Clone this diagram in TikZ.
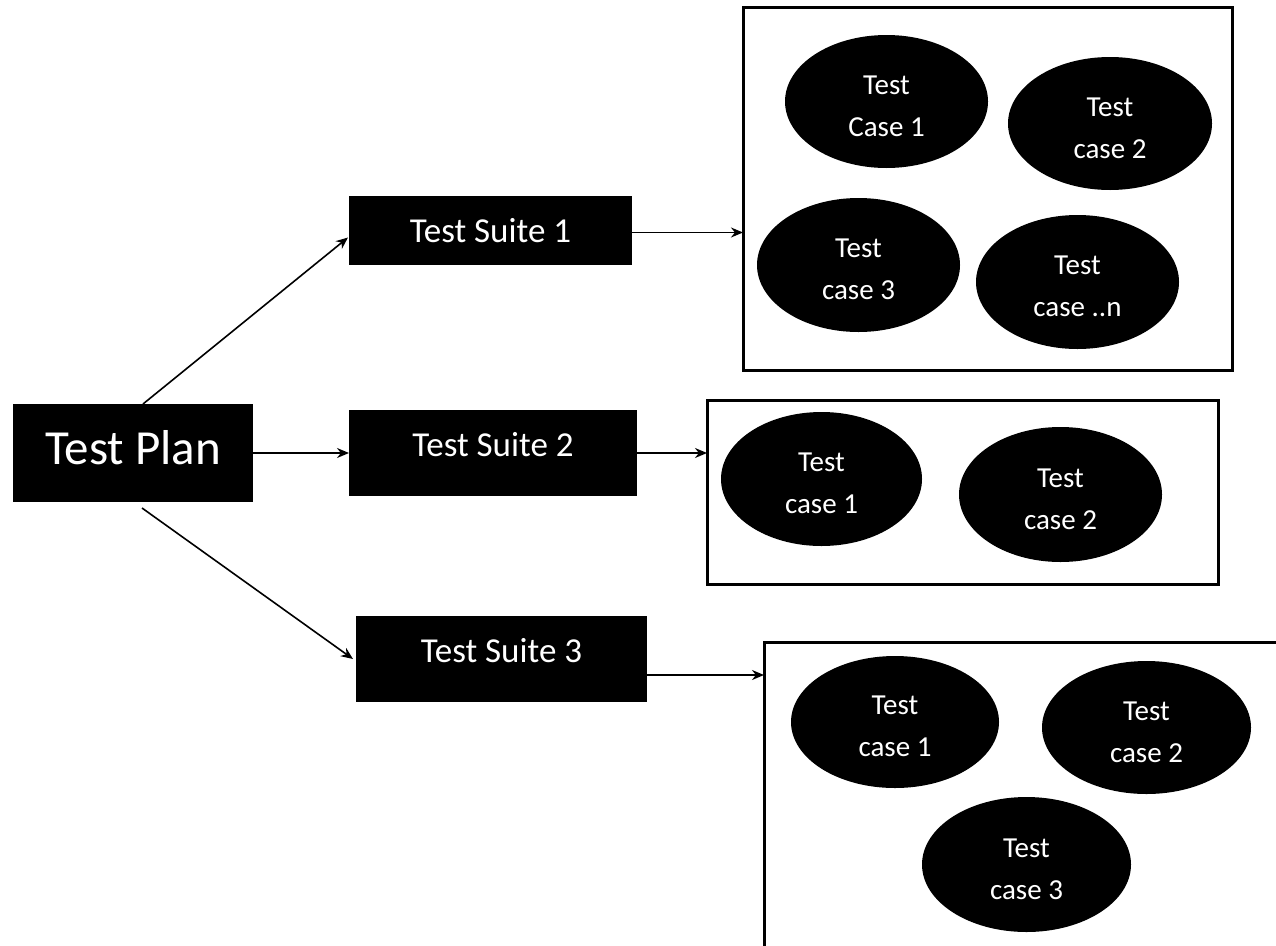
\documentclass[tikz,border=0pt]{standalone}
\usepackage{fontspec}
\setmainfont{Carlito}
\usetikzlibrary{arrows.meta,shapes.geometric}
\begin{document}
\begin{tikzpicture}[x=1pt,y=-1pt,
  blk/.style={rectangle, fill=black, text=white, inner sep=0pt, outer sep=0pt},
  suite/.style={blk, font=\fontsize{35}{42}\selectfont, minimum height=86pt},
  cont/.style={rectangle, draw=black, line width=3pt, inner sep=0pt, outer sep=0pt},
  tc/.style={ellipse, fill=black, text=white, inner sep=0pt, align=center,
             text height=69pt, text depth=0pt,
             font=\fontsize{29}{42}\selectfont},
  conn/.style={draw=black, line width=1.6pt, -{Stealth[length=12pt,width=10pt]}}]
\useasboundingbox (0,0) rectangle (1276,945);

% Test plan and suites
\node[blk, font=\fontsize{49}{58}\selectfont, minimum width=240pt, minimum height=98pt,
      text height=32pt, text depth=10pt] (TP) at (133,453) {Test Plan};
\node[suite, minimum width=283pt, minimum height=69pt, text height=23pt, text depth=0pt]
      (TS1) at (490.5,230.5) {Test Suite 1};
\node[suite, minimum width=288pt, text height=23pt, text depth=16pt]
      (TS2) at (493,453) {Test Suite 2};
\node[suite, minimum width=291pt, text height=23pt, text depth=16pt]
      (TS3) at (501.5,659) {Test Suite 3};

% Containers
\node[cont, minimum width=489pt, minimum height=363pt] (B1) at (987.5,188.5) {};
\node[cont, minimum width=511pt, minimum height=184pt] (B2) at (962.5,492) {};
\node[cont, minimum width=526pt, minimum height=318pt] (B3) at (1027,801) {};

% Test cases, suite 1
\node[tc, minimum width=203pt, minimum height=133pt] (E1) at (886.5,101.5) {Test\\Case 1};
\node[tc, minimum width=204pt, minimum height=133pt] (E2) at (1110,123.5) {Test\\case 2};
\node[tc, minimum width=203pt, minimum height=134pt] (E3) at (858.5,265) {Test\\case 3};
\node[tc, minimum width=203pt, minimum height=134pt] (E4) at (1077.5,282) {Test\\case ..n};

% Test cases, suite 2
\node[tc, minimum width=201pt, minimum height=134pt] (G1) at (821.5,479) {Test\\case 1};
\node[tc, minimum width=203pt, minimum height=135pt] (G2) at (1060.5,494.5) {Test\\case 2};

% Test cases, suite 3
\node[tc, minimum width=208pt, minimum height=132pt] (F1) at (895,722) {Test\\case 1};
\node[tc, minimum width=209pt, minimum height=133pt] (F2) at (1146.5,727.5) {Test\\case 2};
\node[tc, minimum width=209pt, minimum height=135pt] (F3) at (1026.5,864.5) {Test\\case 3};

% Connectors
\draw[conn] ([xshift=10pt]TP.north) -- ([yshift=-7pt,xshift=-1pt]TS1.west);
\draw[conn] (TP.east) -- (TS2.west);
\draw[conn] ([xshift=9pt,yshift=-6pt]TP.south) -- ([xshift=-3pt]TS3.west);
\draw[conn] ([yshift=-2pt]TS1.east) -- ([yshift=-2pt]TS1.east -| B1.west);
\draw[conn] (TS2.east) -- (TS2.east -| B2.west);
\draw[conn] ([yshift=-16pt]TS3.east) -- ([yshift=-16pt]TS3.east -| B3.west);
\end{tikzpicture}
\end{document}
